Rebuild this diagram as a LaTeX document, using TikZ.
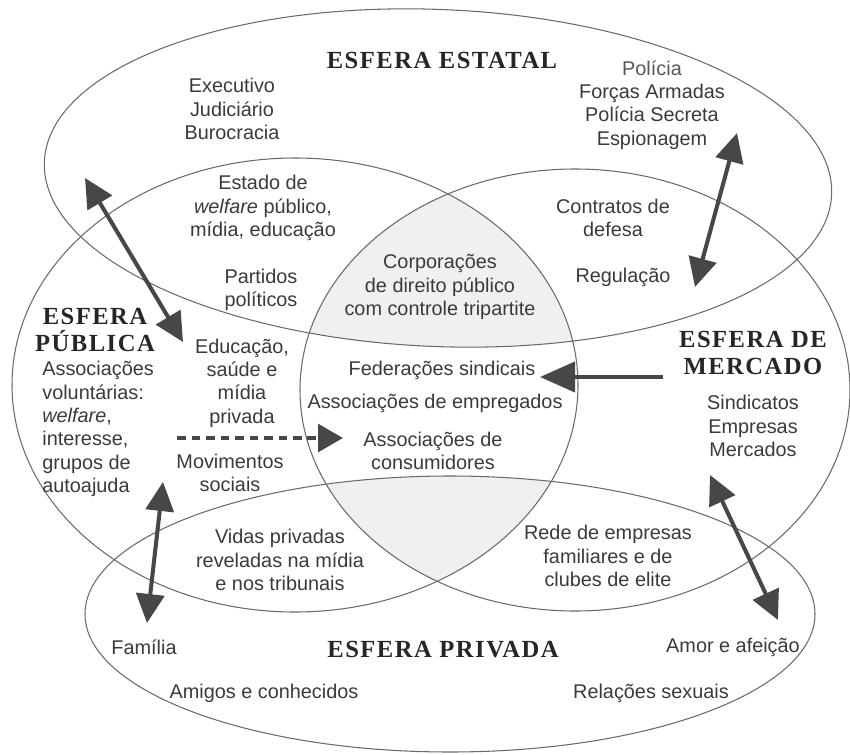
\documentclass[tikz,border=0pt]{standalone}
\usepackage{fontspec}
\setmainfont{Liberation Sans}
\newfontfamily\headfont[LetterSpace=6]{Liberation Serif Bold}
\usetikzlibrary{arrows.meta}
\definecolor{txt}{HTML}{3A3A3A}
\definecolor{arr}{HTML}{474747}
\definecolor{ell}{HTML}{6A6A6A}
\definecolor{lenscol}{HTML}{F0F0F0}
\begin{document}
\begin{tikzpicture}[
  lbl/.style={text=txt, align=center, font=\fontsize{11.3}{13.3}\selectfont, inner sep=0pt},
  head/.style={text=black!85, align=center, font=\headfont\fontsize{14}{15.5}\selectfont, inner sep=0pt},
  ring/.style={draw=ell, line width=0.6pt},
  dbl/.style={draw=arr, line width=2.3pt, {Triangle[length=0.58cm,width=0.56cm]}-{Triangle[length=0.58cm,width=0.56cm]}},
  single/.style={draw=arr, line width=2.3pt, -{Triangle[length=0.7cm,width=0.6cm]}},
  dashedarrow/.style={draw=arr, line width=2.6pt, dash pattern=on 0.17cm off 0.12cm, -{Triangle[length=0.5cm,width=0.55cm]}}
]
\useasboundingbox (0,0) rectangle (17,-15.1);

% shaded lens regions
\begin{scope}
  \clip (5.9,-7.7) ellipse [x radius=5.66, y radius=4.54];
  \clip (11.5,-7.8) ellipse [x radius=5.5, y radius=4.42];
  \fill[lenscol, rotate around={-2.4:(8.76,-3.56)}] (8.76,-3.56) ellipse [x radius=7.88, y radius=3.37];
  \fill[lenscol] (9.0,-12.28) ellipse [x radius=7.3, y radius=2.76];
\end{scope}

% the four spheres
\draw[ring, rotate around={-2.4:(8.76,-3.56)}] (8.76,-3.56) ellipse [x radius=7.88, y radius=3.37];
\draw[ring] (5.9,-7.7) ellipse [x radius=5.66, y radius=4.54];
\draw[ring] (11.5,-7.8) ellipse [x radius=5.5, y radius=4.42];
\draw[ring] (9.0,-12.28) ellipse [x radius=7.3, y radius=2.76];

% headings
\node[head] (hest) at (8.84,-1.2) {ESFERA ESTATAL};
\node[head] (hpub) at (1.9,-6.6) {ESFERA\\PÚBLICA};
\node[head] (hmer) at (15.06,-7.06) {ESFERA DE\\MERCADO};
\node[head] (hpri) at (8.86,-13.0) {ESFERA PRIVADA};

% labels
\node[lbl] (exec) at (4.64,-2.18) {Executivo\\Judiciário\\Burocracia};
\node[lbl] (pol) at (13.04,-2.1) {\textcolor{txt!85}{Polícia}\\Forças Armadas\\Polícia Secreta\\Espionagem};
\node[lbl] (welf) at (5.26,-4.16) {Estado de\\\textit{welfare} público,\\mídia, educação};
\node[lbl] (part) at (5.22,-5.8) {Partidos\\políticos};
\node[lbl] (contr) at (12.26,-4.36) {Contratos de\\defesa};
\node[lbl] (reg) at (12.46,-5.54) {Regulação};
\node[lbl] (corp) at (8.8,-5.74) {Corporações\\de direito público\\com controle tripartite};
\node[lbl, align=left, anchor=north west] (assoc) at (0.84,-7.22) {Associações\\voluntárias:\\\textit{welfare},\\interesse,\\grupos de\\autoajuda};
\node[lbl] (educ) at (4.84,-7.66) {Educação,\\saúde e\\mídia\\privada};
\node[lbl] (movs) at (4.6,-9.46) {Movimentos\\sociais};
\node[lbl] (fed) at (8.84,-7.4) {Federações sindicais};
\node[lbl] (emp) at (8.7,-8.06) {Associações de empregados};
\node[lbl] (cons) at (8.66,-9.02) {Associações de\\consumidores};
\node[lbl] (sind) at (15.06,-8.52) {Sindicatos\\Empresas\\Mercados};
\node[lbl] (vidas) at (5.6,-11.2) {Vidas privadas\\reveladas na mídia\\e nos tribunais};
\node[lbl] (rede) at (12.16,-11.12) {Rede de empresas\\familiares e de\\clubes de elite};
\node[lbl] (fam) at (2.88,-12.94) {Família};
\node[lbl] (amor) at (14.66,-12.94) {Amor e afeição};
\node[lbl] (amig) at (5.28,-13.86) {Amigos e conhecidos};
\node[lbl] (sex) at (13.02,-13.86) {Relações sexuais};

% arrow end points
\coordinate (a1s) at (1.7,-3.56);
\coordinate (a1e) at (3.66,-6.84);
\coordinate (a2s) at (14.74,-2.66);
\coordinate (a2e) at (13.9,-5.74);
\coordinate (a3s) at (3.26,-9.64);
\coordinate (a3e) at (2.94,-12.46);
\coordinate (a4s) at (14.2,-9.5);
\coordinate (a4e) at (15.56,-12.4);
\coordinate (m1s) at (13.26,-7.54);
\coordinate (m1e) at (10.8,-7.54);
\coordinate (d1s) at (3.54,-8.76);
\coordinate (d1e) at (6.86,-8.76);

% arrows
\draw[dbl] (a1s) -- (a1e);
\draw[dbl] (a2s) -- (a2e);
\draw[dbl] (a3s) -- (a3e);
\draw[dbl] (a4s) -- (a4e);
\draw[single] (m1s) -- (m1e);
\draw[dashedarrow] (d1s) -- (d1e);
\end{tikzpicture}
\end{document}
